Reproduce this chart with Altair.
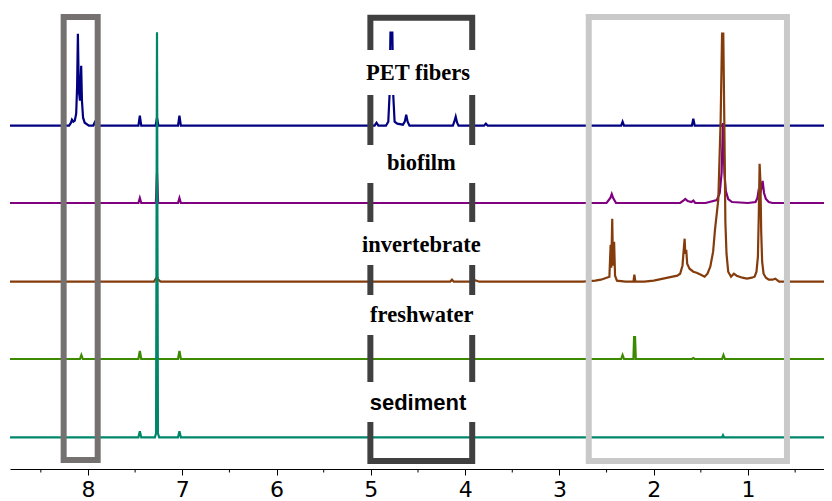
import altair as alt
import pandas as pd

# ---------------- data ----------------
# chemical shift axis (ppm), drawn reversed
x_left_ppm = 8.827
x_right_ppm = 0.194
major_ticks = [1, 2, 3, 4, 5, 6, 7, 8]
minor_ticks = [0.5, 1.5, 2.5, 3.5, 4.5, 5.5, 6.5, 7.5, 8.5]

series_names = ["PET fibers", "biofilm", "invertebrate", "freshwater", "sediment"]
series_offsets = [343.3, 266.0, 187.3, 110.0, 31.7]
series_colors = ["#000080", "#800080", "#843C0C", "#3C8A00", "#00876B"]

pet_ppm = [8.83, 8.20, 8.18, 8.17, 8.155, 8.14, 8.125, 8.115, 8.107, 8.097, 8.085, 8.072,
           8.064, 8.052, 8.035, 7.99, 7.945, 7.93, 7.915, 7.465, 7.45, 7.435, 7.283, 7.268,
           7.253, 7.045, 7.03, 7.015, 4.96, 4.94, 4.92, 4.84, 4.815, 4.802, 4.792, 4.772,
           4.762, 4.748, 4.72, 4.66, 4.64, 4.625, 4.61, 4.59, 4.13, 4.115, 4.10, 4.085,
           4.07, 3.80, 3.78, 3.76, 2.345, 2.33, 2.315, 1.595, 1.58, 1.565, 0.13]
pet_int = [0, 0, 3, 6, 4, 5, 12, 40, 92, 35, 25, 60,
           25, 8, 3, 0, 0, 3, 0, 0, 10, 0, 0, 8,
           0, 0, 10, 0, 0, 3, 0, 0, 4, 30, 93, 93,
           30, 4, 2, 1, 4, 11, 4, 0, 0, 4, 9, 3,
           0, 0, 2, 0, 0, 4, 0, 0, 7, 0, 0]

bio_ppm = [8.83, 7.465, 7.45, 7.435, 7.28, 7.268, 7.256, 7.045, 7.03, 7.015,
           2.50, 2.46, 2.445, 2.43, 2.40, 1.72, 1.69, 1.665, 1.64, 1.60, 1.58, 1.56,
           1.45, 1.33, 1.30, 1.28, 1.265, 1.25, 1.235, 1.21, 1.17, 1.00,
           0.92, 0.90, 0.89, 0.875, 0.86, 0.845, 0.83, 0.81, 0.78, 0.74, 0.13]
bio_int = [0, 0, 5, 0, 0, 30, 0, 0, 5, 0,
           0, 5, 9, 5, 0, 0, 2, 4, 2, 1, 2.5, 0,
           0, 3, 10, 30, 80, 30, 12, 4, 1, 0,
           1, 5, 11, 8, 14, 22, 10, 4, 1, 0, 0]

inv_ppm = [8.83, 7.30, 7.28, 7.268, 7.255, 7.23, 4.16, 4.14, 4.12, 3.93, 3.91, 3.88, 3.85,
           2.75, 2.62, 2.56, 2.53, 2.47, 2.457, 2.45, 2.44, 2.432, 2.42, 2.41, 2.39,
           2.30, 2.215, 2.205, 2.195, 2.10, 2.00, 1.90, 1.80, 1.75, 1.72, 1.695, 1.68,
           1.672, 1.665, 1.655, 1.645, 1.62, 1.58, 1.545, 1.50, 1.46, 1.43, 1.40, 1.37,
           1.35, 1.315, 1.29, 1.275, 1.262, 1.25, 1.24, 1.228, 1.21, 1.18, 1.15, 1.12,
           1.06, 1.01, 0.96, 0.93, 0.91, 0.895, 0.885, 0.877, 0.868, 0.86, 0.85, 0.835,
           0.81, 0.78, 0.74, 0.71, 0.67, 0.13]
inv_int = [0, 0, 3, 5, 2, 0, 0, 2, 0, 0, 2, 1, 0,
           0, 1, 2, 3, 5, 37, 14, 63, 16, 40, 6, 1,
           0, 0, 7, 0, 0, 1, 3, 5, 6, 8, 16, 34,
           43, 28, 32, 18, 13, 10, 9, 7, 5, 8, 15, 30,
           52, 82, 162, 248, 248, 150, 60, 28, 10, 5, 8, 6,
           4, 3, 4, 5, 10, 25, 70, 118, 100, 50, 20, 8,
           4, 2, 2, 3, 0, 0]

fw_ppm = [8.83, 8.085, 8.07, 8.055, 7.465, 7.45, 7.435, 7.28, 7.268, 7.255, 7.045, 7.03,
          7.015, 2.345, 2.33, 2.315, 2.215, 2.208, 2.198, 2.19, 1.595, 1.58, 1.565,
          1.275, 1.26, 1.245, 0.13]
fw_int = [0, 0, 4, 0, 0, 8, 0, 0, 2, 0, 0, 8,
          0, 0, 4, 0, 0, 22, 22, 0, 0, 1, 0,
          0, 4, 0, 0]

sed_ppm = [8.83, 7.465, 7.45, 7.435, 7.29, 7.278, 7.268, 7.258, 7.245, 7.045, 7.03, 7.015,
           1.275, 1.265, 1.255, 0.13]
sed_int = [0, 0, 6, 0, 0, 4, 405, 4, 0, 0, 6, 0,
           0, 2, 0, 0]

spectra_ppm = [pet_ppm, bio_ppm, inv_ppm, fw_ppm, sed_ppm]
spectra_int = [pet_int, bio_int, inv_int, fw_int, sed_int]

# highlight boxes (ppm range, vertical extent)
box_x1 = [8.258, 5.005, 2.689]
box_x2 = [7.897, 3.925, 0.587]
box_y1 = [9.0, 8.0, 8.0]
box_y2 = [452.0, 451.2, 452.0]
box_colors = ["#767171", "#404040", "#C9C9C9"]

# labels and their white backgrounds
label_texts = ["PET fibers", "biofilm", "invertebrate", "freshwater", "sediment"]
label_x = [4.50, 4.465, 4.465, 4.46, 4.50]
label_y = [389.0, 299.0, 217.3, 147.3, 59.0]
label_serif = [True, True, True, True, False]
band_y1 = [374.0, 286.0, 204.0, 134.0, 47.0]
band_y2 = [419.0, 324.0, 247.0, 174.0, 87.0]
band_x1 = 5.15
band_x2 = 3.75

# ---------------- chart ----------------
PLOT_W = 814
PLOT_H = 461
x_scale = alt.Scale(domain=[x_right_ppm, x_left_ppm], reverse=True, nice=False, zero=False)
y_scale = alt.Scale(domain=[0, PLOT_H], nice=False, zero=False)

x_axis = alt.Axis(
    values=major_ticks, format="d",
    tickSize=6, tickColor="black", tickWidth=1, domainColor="black", domainWidth=1,
    labelFont="DejaVu Sans", labelFontSize=22, labelColor="black", labelPadding=4,
    labelOverlap=False, labelFlush=False, grid=False, title=None,
)


def X(field):
    return alt.X(field, scale=x_scale, axis=x_axis)


def Y(field):
    return alt.Y(field, scale=y_scale, axis=None)


layers = []
for k, name in enumerate(series_names):
    assert len(spectra_ppm[k]) == len(spectra_int[k]), name
    df = pd.DataFrame({
        "ppm": spectra_ppm[k],
        "v": [series_offsets[k] + h for h in spectra_int[k]],
        "i": list(range(len(spectra_ppm[k]))),
    })
    layers.append(
        alt.Chart(df).mark_line(color=series_colors[k], strokeWidth=2.2, clip=True).encode(
            x=X("ppm:Q"), y=Y("v:Q"), order="i:Q",
        )
    )

box_df = pd.DataFrame({"x1": box_x1, "x2": box_x2, "y1": box_y1, "y2": box_y2, "c": box_colors})
boxes = alt.Chart(box_df).mark_rect(filled=False, strokeWidth=6).encode(
    x=X("x1:Q"), x2="x2:Q", y=Y("y1:Q"), y2="y2:Q",
    stroke=alt.Stroke("c:N", scale=None),
)

band_df = pd.DataFrame({"x1": [band_x1] * 5, "x2": [band_x2] * 5, "y1": band_y1, "y2": band_y2})
bands = alt.Chart(band_df).mark_rect(fill="white", strokeWidth=0).encode(
    x=X("x1:Q"), x2="x2:Q", y=Y("y1:Q"), y2="y2:Q",
)

lab_df = pd.DataFrame({"t": label_texts, "x": label_x, "y": label_y, "serif": label_serif})
serif_text = alt.Chart(lab_df).transform_filter("datum.serif").mark_text(
    font="Liberation Serif", fontWeight="bold", fontSize=22.5, align="center",
    baseline="alphabetic", color="black",
).encode(x=X("x:Q"), y=Y("y:Q"), text="t:N")
sans_text = alt.Chart(lab_df).transform_filter("!datum.serif").mark_text(
    font="Liberation Sans", fontWeight="bold", fontSize=22, align="center",
    baseline="alphabetic", color="black",
).encode(x=X("x:Q"), y=Y("y:Q"), text="t:N")

minor_df = pd.DataFrame({"m": minor_ticks})
minor = alt.Chart(minor_df).mark_rule(color="black", strokeWidth=1).encode(
    x=X("m:Q"), y=alt.value(PLOT_H), y2=alt.value(PLOT_H + 3.5),
)

chart = alt.layer(*layers, boxes, bands, serif_text, sans_text, minor).properties(
    width=PLOT_W, height=PLOT_H,
    autosize=alt.AutoSizeParams(type="none"),
    padding={"left": 2, "top": 0, "right": 0, "bottom": 32},
).configure_view(stroke=None)

chart.save("out.html", embed_options={"renderer": "svg", "actions": False})
